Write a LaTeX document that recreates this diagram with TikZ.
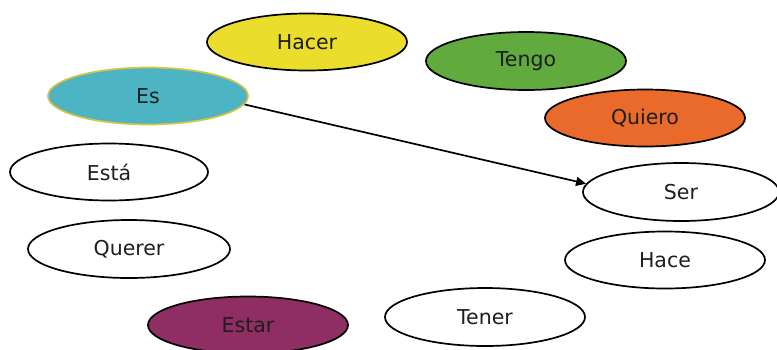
\documentclass[tikz,border=0pt]{standalone}
\usepackage{fontspec}
\setmainfont{DejaVu Sans}
\usetikzlibrary{shapes.geometric,arrows.meta}
\definecolor{cyellow}{RGB}{234,221,44}
\definecolor{cgreen}{RGB}{96,170,62}
\definecolor{corange}{RGB}{233,106,42}
\definecolor{cteal}{RGB}{76,180,194}
\definecolor{cpurple}{RGB}{142,46,98}
\definecolor{cedge}{RGB}{215,196,70}
\definecolor{ctext}{RGB}{30,30,30}
\tikzset{
  word/.style={ellipse, draw=black, line width=1.7pt, minimum width=200pt, minimum height=57pt, inner sep=0pt,
    font=\fontsize{20.5}{24}\selectfont, text=ctext},
  link/.style={draw=black, line width=1.7pt, -{Triangle[length=10pt,width=9pt]}}
}
\begin{document}
\begin{tikzpicture}[x=1pt,y=-1pt]
\useasboundingbox (0,0) rectangle (777,349);
\clip (0,0) rectangle (777,349);
\node[word, fill=cyellow] (hacer) at (307,42) {Hacer};
\node[word, fill=cteal, draw=cedge] (es) at (148,96) {Es};
\node[word, fill=cgreen, minimum height=58pt] (tengo) at (526,61) {Tengo};
\node[word, fill=corange] (quiero) at (645,118) {Quiero};
\node[word, fill=white, minimum width=198pt] (esta) at (109,172) {Está};
\node[word, fill=white, minimum width=202pt, minimum height=58pt] (querer) at (129,249) {Querer};
\node[word, fill=cpurple] (estar) at (248,325) {Estar};
\node[word, fill=white, minimum width=196pt, minimum height=58pt] (ser) at (681,192) {Ser};
\node[word, fill=white] (hace) at (665,260) {Hace};
\node[word, fill=white, minimum height=58pt] (tener) at (485,317) {Tener};
\draw[link] (es.-5) -- (ser.175);
\end{tikzpicture}
\end{document}
